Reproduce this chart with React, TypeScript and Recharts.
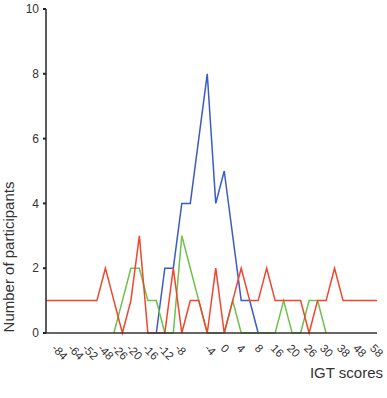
import React from 'react';
import { LineChart, Line, XAxis, YAxis, Label } from 'recharts';

// x positions (point index along the score axis)
const X_INDEX = [
  0, 1, 2, 3, 4, 5, 6, 7, 8, 9,
  10, 11, 12, 13, 14, 15, 16, 17, 18, 19,
  20, 21, 22, 23, 24, 25, 26, 27, 28, 29,
  30, 31, 32, 33, 34, 35, 36, 37, 38, 39,
];

const RED = [
  1, 1, 1, 1, 1, 1, 1, 2, 1, 0,
  1, 3, 0, 0, 0, 2, 0, 1, 1, 0,
  2, 0, 1, 2, 1, 1, 2, 1, 1, 1,
  1, 0, 1, 1, 2, 1, 1, 1, 1, 1,
];

const GREEN = [
  null, null, null, null, null, null, null, null, 0, 1,
  2, 2, 1, 1, 0, 0, 3, 2, 1, 0,
  0, 0, 1, 0, 0, 0, 0, 0, 1, 0,
  0, 1, 1, 0, null, null, null, null, null, null,
];

const BLUE = [
  null, null, null, null, null, null, null, null, null, null,
  null, null, null, 0, 2, 2, 4, 4, 6, 8,
  4, 5, 3, 1, 1, 0, null, null, null, null,
  null, null, null, null, null, null, null, null, null, null,
];

const X_TICK_LABELS = ['-84', '-64', '-52', '-48', '-26', '-20', '-16', '-12', '-8', '-4', '0', '4', '8', '16', '20', '26', '30', '38', '48', '58'];
const X_TICK_POS = [0.6, 2.5, 4.2, 6.0, 7.7, 9.4, 11.3, 13.1, 15.1, 18.6, 20.5, 22.4, 24.5, 26.4, 28.3, 30.3, 32.2, 34.2, 36.1, 38.1];

const Y_TICKS = [0, 2, 4, 6, 8, 10];

const data = X_INDEX.map((i, k) => ({ i, red: RED[k], green: GREEN[k], blue: BLUE[k] }));

const FONT = "'Liberation Sans', Arial, Helvetica, sans-serif";

const XTick = (props: any) => {
  const { x, y, payload } = props;
  const idx = X_TICK_POS.indexOf(payload.value);
  const ty = y + 16;
  return (
    <text x={x} y={ty} transform={`rotate(45, ${x}, ${ty})`} fontSize={11.5} fill="#333" fontFamily={FONT}>
      {X_TICK_LABELS[idx]}
    </text>
  );
};

export default function App() {
  return (
    <div style={{ position: 'absolute', left: 0, top: 0, width: 387, height: 398 }}>
      <LineChart width={387} height={398} data={data} margin={{ top: 9, right: 10, left: 0, bottom: 0 }}>
        <XAxis
          dataKey="i"
          type="number"
          domain={[0, 39]}
          ticks={X_TICK_POS}
          interval={0}
          tick={<XTick />}
          tickLine={false}
          tickSize={0}
          tickMargin={0}
          height={65}
          axisLine={{ stroke: '#333', strokeWidth: 1.6 }}
          allowDataOverflow
        >
          <Label
            content={() => (
              <text x={383} y={378} textAnchor="end" fontSize={15} fill="#333" fontFamily={FONT}>
                IGT scores
              </text>
            )}
          />
        </XAxis>
        <YAxis
          type="number"
          domain={[0, 10]}
          ticks={Y_TICKS}
          interval={0}
          width={46}
          tickSize={3}
          tickMargin={4}
          tick={{ fontSize: 12, fill: '#333', fontFamily: FONT }}
          tickLine={{ stroke: '#222', strokeWidth: 2 }}
          axisLine={{ stroke: '#333', strokeWidth: 1.6 }}
        >
          <Label
            content={() => (
              <text x={14} y={257} transform="rotate(-90, 14, 257)" textAnchor="middle" fontSize={15} fill="#333" fontFamily={FONT}>
                Number of participants
              </text>
            )}
          />
        </YAxis>
        <Line type="linear" dataKey="blue" stroke="#3a5cc5" strokeWidth={1.5} dot={false} isAnimationActive={false} />
        <Line type="linear" dataKey="green" stroke="#6cc24a" strokeWidth={1.5} dot={false} isAnimationActive={false} />
        <Line type="linear" dataKey="red" stroke="#f0462d" strokeWidth={1.5} dot={false} isAnimationActive={false} />
      </LineChart>
    </div>
  );
}
